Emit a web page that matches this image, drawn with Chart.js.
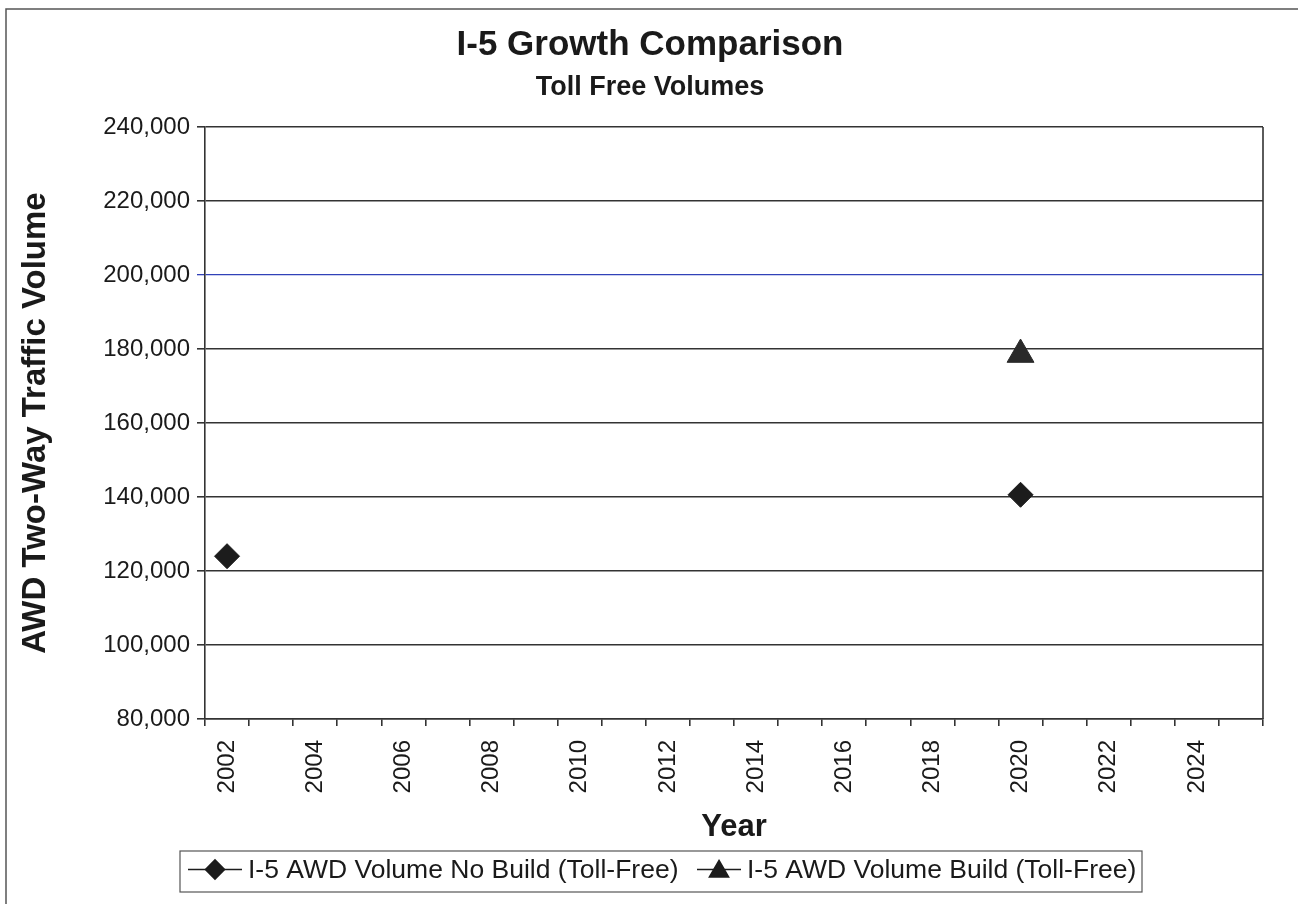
<!DOCTYPE html>
<html>
<head>
<meta charset="utf-8">
<title>I-5 Growth Comparison</title>
<script src="https://cdn.jsdelivr.net/npm/chart.js@4/dist/chart.umd.min.js"></script>
<style>
  html, body { margin: 0; padding: 0; background: #ffffff; }
  canvas { display: block; }
</style>
</head>
<body>
<canvas id="chart" width="1298" height="904"></canvas>
<script>
// Category axis: one slot per year
const years = ['2002','2003','2004','2005','2006','2007','2008','2009','2010','2011','2012','2013',
               '2014','2015','2016','2017','2018','2019','2020','2021','2022','2023','2024','2025'];
// Years that carry a tick label
const labeledYears = ['2002','2004','2006','2008','2010','2012','2014','2016','2018','2020','2022','2024'];

// I-5 AWD volume, No Build (toll-free)
const noBuildYears  = ['2002', '2020'];
const noBuildValues = [124000, 140600];

// I-5 AWD volume, Build (toll-free)
const buildYears  = ['2020'];
const buildValues = [178500];

// Y axis range
const yMin = 80000;
const yMax = 240000;
const yStep = 20000;

const chartTitle = 'I-5 Growth Comparison';
const chartSubtitle = 'Toll Free Volumes';

const FONT = "'Liberation Sans', Arial, Helvetica, sans-serif";
const INK = '#1c1c1c';
const GRID = '#333333';
const BLUE_LINE = '#3142b8';

// White page plus the outer frame lines
const framePlugin = {
  id: 'frame',
  beforeDraw(chart) {
    const ctx = chart.ctx;
    ctx.save();
    ctx.fillStyle = '#ffffff';
    ctx.fillRect(0, 0, chart.width, chart.height);
    ctx.strokeStyle = '#555555';
    ctx.lineWidth = 1.5;
    ctx.beginPath();
    ctx.moveTo(6, chart.height);
    ctx.lineTo(6, 9);
    ctx.lineTo(chart.width, 9);
    ctx.stroke();
    ctx.restore();
  }
};

// Title and subtitle, centred on the page
const headingPlugin = {
  id: 'heading',
  afterDraw(chart, args, opts) {
    const ctx = chart.ctx;
    ctx.save();
    ctx.fillStyle = '#1a1a1a';
    ctx.textAlign = 'center';
    ctx.textBaseline = 'middle';
    ctx.font = 'bold ' + opts.titleSize + 'px ' + FONT;
    ctx.fillText(chartTitle, opts.centerX, opts.titleY);
    ctx.font = 'bold ' + opts.subtitleSize + 'px ' + FONT;
    ctx.fillText(chartSubtitle, opts.centerX, opts.subtitleY);
    ctx.restore();
  }
};

// Right edge of the plot area
const plotBorderPlugin = {
  id: 'plotBorder',
  afterDraw(chart) {
    const { ctx, chartArea } = chart;
    ctx.save();
    ctx.strokeStyle = GRID;
    ctx.lineWidth = 1.6;
    ctx.beginPath();
    ctx.moveTo(chartArea.right, chartArea.top);
    ctx.lineTo(chartArea.right, chartArea.bottom);
    ctx.stroke();
    ctx.restore();
  }
};

// Boxed legend: short line with the series marker, then its label
const boxedLegendPlugin = {
  id: 'boxedLegend',
  afterDraw(chart, args, opts) {
    const ctx = chart.ctx;
    const cy = opts.top + opts.height / 2 - 2;
    ctx.save();
    ctx.font = opts.fontSize + 'px ' + FONT;
    ctx.textBaseline = 'middle';
    ctx.textAlign = 'left';
    chart.data.datasets.forEach((ds, i) => {
      const x = opts.itemStarts[i];
      const lineLen = opts.lineLengths[i];
      ctx.strokeStyle = INK;
      ctx.lineWidth = 1.6;
      ctx.beginPath();
      ctx.moveTo(x, cy);
      ctx.lineTo(x + lineLen, cy);
      ctx.stroke();
      ctx.fillStyle = INK;
      ctx.strokeStyle = INK;
      Chart.helpers.drawPoint(ctx, {
        pointStyle: ds.pointStyle,
        radius: opts.markerRadius[i],
        borderWidth: 1,
        rotation: 0
      }, x + lineLen / 2, cy + (ds.pointStyle === 'triangle' ? 2 : 0));
      ctx.fillStyle = '#1a1a1a';
      ctx.fillText(ds.label, x + lineLen + 6, cy + 1);
    });
    ctx.strokeStyle = '#555555';
    ctx.lineWidth = 1.2;
    ctx.strokeRect(opts.left, opts.top, opts.right - opts.left, opts.height);
    ctx.restore();
  }
};

new Chart(document.getElementById('chart'), {
  type: 'line',
  data: {
    labels: years,
    datasets: [
      {
        label: 'I-5 AWD Volume No Build (Toll-Free)',
        data: noBuildYears.map((yr, i) => ({ x: yr, y: noBuildValues[i] })),
        showLine: false,
        pointStyle: 'rectRot',
        pointRadius: 12.5,
        pointHoverRadius: 12.5,
        pointBackgroundColor: INK,
        pointBorderColor: INK,
        pointBorderWidth: 1,
        borderColor: INK,
        backgroundColor: INK
      },
      {
        label: 'I-5 AWD Volume Build (Toll-Free)',
        data: buildYears.map((yr, i) => ({ x: yr, y: buildValues[i] })),
        showLine: false,
        pointStyle: 'triangle',
        pointRadius: 15.5,
        pointHoverRadius: 15.5,
        pointBackgroundColor: '#2a2a2a',
        pointBorderColor: '#2a2a2a',
        pointBorderWidth: 1,
        borderColor: INK,
        backgroundColor: INK
      }
    ]
  },
  options: {
    responsive: false,
    animation: false,
    devicePixelRatio: 1,
    events: [],
    layout: { padding: { top: 127, left: 0, right: 35, bottom: 58 } },
    plugins: {
      legend: { display: false },
      tooltip: { enabled: false },
      title: { display: false },
      heading: {
        centerX: 650,
        titleY: 45,
        titleSize: 35,
        subtitleY: 88,
        subtitleSize: 27
      },
      boxedLegend: {
        left: 180,
        right: 1142,
        top: 851,
        height: 41,
        fontSize: 26.5,
        itemStarts: [188, 697],
        lineLengths: [54, 44],
        markerRadius: [9.5, 11]
      }
    },
    scales: {
      x: {
        type: 'category',
        offset: true,
        grid: {
          offset: true,
          drawOnChartArea: false,
          drawTicks: true,
          tickLength: 7,
          color: GRID,
          lineWidth: 1.6
        },
        border: { color: GRID, width: 1.6 },
        ticks: {
          autoSkip: false,
          minRotation: 90,
          maxRotation: 90,
          padding: 14,
          color: '#1a1a1a',
          font: { family: FONT, size: 24 },
          callback(value) {
            const lbl = this.getLabelForValue(value);
            return labeledYears.includes(lbl) ? lbl : '';
          }
        },
        title: {
          display: true,
          text: 'Year',
          color: '#1a1a1a',
          font: { family: FONT, size: 31, weight: 'bold' },
          padding: { top: 0, bottom: 0 }
        },
        afterFit(scale) { scale.height = 127; }
      },
      y: {
        min: yMin,
        max: yMax,
        grid: {
          color: ctx => (ctx.tick && ctx.tick.value === 200000 ? BLUE_LINE : GRID),
          lineWidth: ctx => (ctx.tick && ctx.tick.value === 200000 ? 1.3 : 1.6),
          tickLength: 8
        },
        border: { color: GRID, width: 1.6 },
        ticks: {
          stepSize: yStep,
          padding: 7,
          color: '#1a1a1a',
          font: { family: FONT, size: 24 },
          callback: v => v.toLocaleString('en-US')
        },
        title: {
          display: true,
          text: 'AWD Two-Way Traffic Volume',
          color: '#1a1a1a',
          font: { family: FONT, size: 33, weight: 'bold' },
          padding: { top: 16, bottom: 0 }
        },
        afterFit(scale) { scale.width = 205; }
      }
    }
  },
  plugins: [framePlugin, headingPlugin, plotBorderPlugin, boxedLegendPlugin]
});
</script>
</body>
</html>
